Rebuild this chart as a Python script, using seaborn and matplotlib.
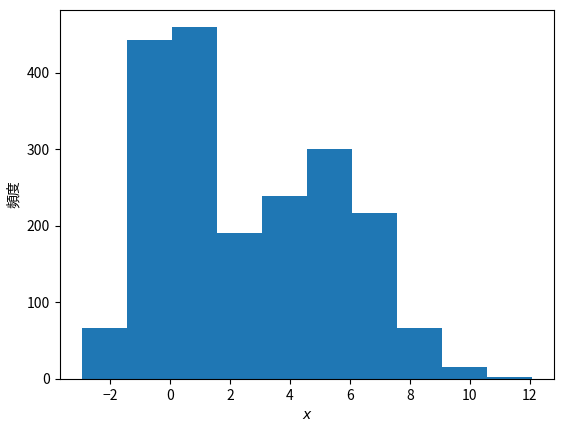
import matplotlib
matplotlib.use("Agg")
import matplotlib.pyplot as plt
import seaborn as sns
import numpy as np

# histogram: 10 bins of width 1.5
bin_edges = [-2.93, -1.43, 0.07, 1.57, 3.07, 4.57, 6.07, 7.57, 9.07, 10.57, 12.07]
counts = [66, 443, 459, 191, 239, 300, 216, 67, 16, 2]
x_label = "$x$"
y_label = "頻度"

plt.rcParams['font.family'] = ['Noto Sans CJK JP', 'DejaVu Sans']
plt.rcParams['axes.unicode_minus'] = True

centers = (np.array(bin_edges[:-1]) + np.array(bin_edges[1:])) / 2

fig, ax = plt.subplots(figsize=(5.65, 4.3), dpi=100)
fig.subplots_adjust(left=0.106, right=0.981, top=0.977, bottom=0.119)

sns.histplot(x=centers, weights=counts, bins=bin_edges, color='#1f77b4',
             alpha=1, linewidth=0, ax=ax)

ax.set_xticks([-2, 0, 2, 4, 6, 8, 10, 12])
ax.set_yticks([0, 100, 200, 300, 400])
ax.set_xlabel(x_label)
ax.set_ylabel(y_label)

fig.savefig("out.png", dpi=100)
